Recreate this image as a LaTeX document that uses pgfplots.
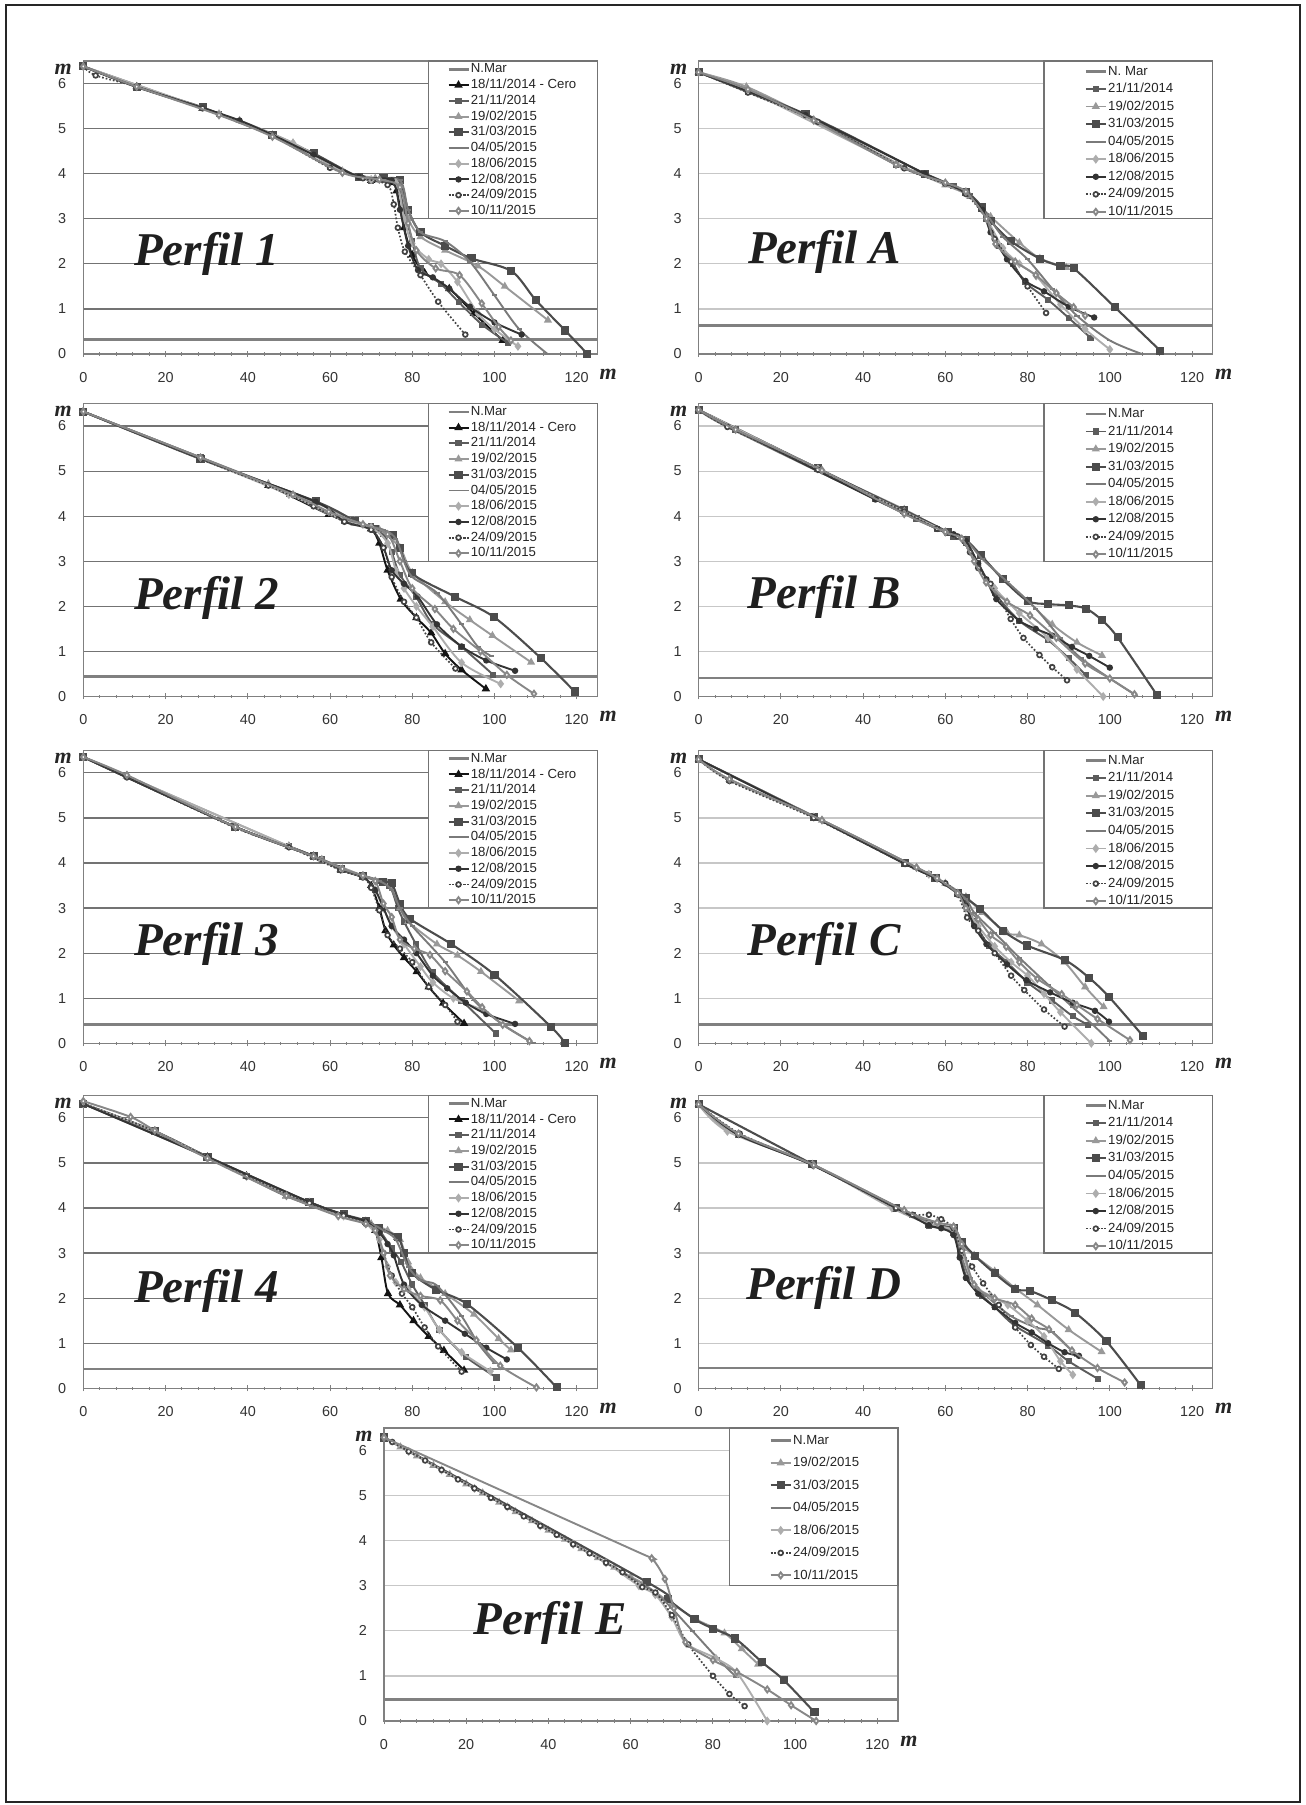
\documentclass[border=0pt]{standalone}
\usepackage{fontspec}
\setmainfont{Liberation Sans}
\newfontfamily\tnr{Liberation Serif}
\usepackage{pgfplots}
\pgfplotsset{compat=1.18}
\pgfplotsset{
 base/.style={
   scale only axis, width=257pt, height=146.5pt, anchor=south west,
   xmin=0,xmax=125,ymin=0,ymax=6.5,
   xtick={0,20,...,120}, ytick={0,1,...,6},
   minor x tick num=4,
   tick align=center, xtick pos=bottom, ytick pos=left,
   major tick length=3pt, minor tick length=1.6pt,
   tick style={black!50, line width=0.5pt},
   ytick style={draw=none},
   axis line style={black!50, line width=0.6pt},
   ymajorgrids,
   tick label style={font=\fontsize{7.2}{8}\selectfont, text=black!80},
   /pgf/number format/assume math mode=true,
   xticklabel style={yshift=-4pt},
   yticklabel style={xshift=-3.5pt},
   clip mode=individual,
   legend cell align=left,
   legend image code/.code={\draw[mark repeat=2,mark phase=2] plot coordinates {(0pt,0pt)(5pt,0pt)(10pt,0pt)};},
   legend style={at={(0.672,1)}, anchor=north west, draw=none, fill=none, inner sep=0pt,
     column sep=0.5pt, font=\fontsize{6.6}{7}\selectfont, text=black!85,
     cells={anchor=west},
     nodes={inner sep=0pt, text height=4.8pt, text depth=1.2pt}},
 },
 leftpanel/.style={base, y grid style={draw=black!55, line width=0.6pt},
   legend style={xshift=9pt, yshift=-1pt, row sep=1.86pt}},
 rightpanel/.style={base, y grid style={draw=black!22, line width=0.6pt},
   legend style={xshift=20pt, yshift=-2pt, row sep=2.78pt}},
 epanel/.style={base, y grid style={draw=black!22, line width=0.6pt},
   legend style={xshift=19.75pt, yshift=-3pt, row sep=5.25pt}},
 nmar/.style={color=black!50, line width=1.4pt, mark=none},
 s1811/.style={color=black!92, line width=0.95pt, mark=triangle*, mark size=1.5pt, smooth, tension=0.5},
 s2111/.style={color=black!64, line width=0.95pt, mark=square*, mark size=1.1pt, smooth, tension=0.5},
 s1902/.style={color=black!40, line width=0.95pt, mark=triangle*, mark size=1.4pt, smooth, tension=0.5},
 s3103/.style={color=black!70, line width=1.05pt, mark=square*, mark size=1.5pt, smooth, tension=0.5},
 s0405/.style={color=black!52, line width=0.95pt, mark=-, mark size=1.3pt, smooth, tension=0.5},
 s1806/.style={color=black!32, line width=0.95pt, mark=diamond*, mark size=1.5pt, smooth, tension=0.5},
 s1208/.style={color=black!80, line width=0.95pt, mark=*, mark size=1.1pt, smooth, tension=0.5},
 s2409/.style={color=black!74, line width=0.85pt, densely dotted, mark=*, mark size=1.2pt, mark options={solid, fill=white}, smooth, tension=0.5},
 s1011/.style={color=black!47, line width=0.95pt, mark=diamond*, mark size=1.5pt, mark options={solid, fill=white}, smooth, tension=0.5},
}
\tikzset{
 ptitle/.style={font=\tnr\bfseries\itshape\fontsize{23.5}{25}\selectfont, text=black!88, inner sep=0pt},
 mlab/.style={font=\tnr\bfseries\itshape\fontsize{11}{12}\selectfont, text=black!85, inner sep=0pt},
}
\newcommand\legbox{\draw[fill=white, draw=black!55, line width=0.6pt] (axis cs:84,3) rectangle (axis cs:125,6.5);}
\newcommand\mlabs{\node[mlab, xshift=-10pt, yshift=-4pt] at (rel axis cs:0,1) {m};
  \node[mlab, xshift=5.5pt, yshift=-10pt] at (rel axis cs:1,0) {m};}
\begin{document}
\begin{tikzpicture}
\useasboundingbox (0,0) rectangle (653pt,902.5pt);
\draw[black!85, line width=0.9pt] (3pt,1.5pt) rectangle (650pt,900pt);

% ---------------- Perfil 1
\begin{axis}[leftpanel, at={(41.65pt,725.5pt)}]
\addplot[nmar] coordinates {(0,0.33)(125,0.33)}; \addlegendentry{N.Mar}
\addplot[s1811] coordinates {(0,6.38)(13,5.93)(29,5.45)(46,4.85)(56,4.42)(63,4.05)(70,3.85)(75,3.8)(76.2,3.62)(78,2.8)(80,2.2)(83,1.8)(89,1.45)(95,0.9)(102,0.3)}; \addlegendentry{18/11/2014 - Cero}
\addplot[s2111] coordinates {(0,6.38)(13,5.92)(33,5.33)(46,4.85)(60,4.15)(70,3.85)(76,3.8)(78,3.2)(80,2.5)(82,1.9)(87,1.55)(91.3,1.15)(97,0.65)(103.2,0.25)}; \addlegendentry{21/11/2014}
\addplot[s1902] coordinates {(0,6.38)(29,5.45)(38,5.18)(51,4.68)(63,4.05)(71,3.9)(77,3.75)(79,3.0)(82,2.6)(88,2.3)(96,1.95)(102.5,1.5)(113,0.75)}; \addlegendentry{19/02/2015}
\addplot[s3103] coordinates {(0,6.38)(13,5.93)(29,5.47)(46,4.85)(56,4.45)(67,3.93)(73,3.9)(77,3.85)(79,3.2)(82,2.7)(88,2.4)(94.4,2.12)(104.1,1.84)(110,1.2)(117.2,0.52)(122.6,0)}; \addlegendentry{31/03/2015}
\addplot[s0405] coordinates {(0,6.38)(29,5.45)(46,4.85)(60,4.15)(70,3.88)(77,3.85)(79,3.2)(82,2.7)(88,2.5)(94,2.05)(100,1.3)(106,0.55)(112.9,0)}; \addlegendentry{04/05/2015}
\addplot[s1806] coordinates {(0,6.38)(33,5.33)(51,4.68)(63,4.05)(70,3.87)(76,3.8)(78,3.0)(80,2.45)(84,2.1)(87,2.0)(91,1.6)(96,0.9)(100,0.55)(105.7,0.17)}; \addlegendentry{18/06/2015}
\addplot[s1208] coordinates {(0,6.38)(13,5.93)(38,5.18)(56,4.42)(67,3.93)(75,3.85)(77,3.2)(79,2.4)(81.4,1.86)(85,1.7)(89,1.45)(94,1.05)(100,0.7)(106.6,0.43)}; \addlegendentry{12/08/2015}
\addplot[s2409] coordinates {(0,6.38)(3,6.18)(13,5.93)(29,5.45)(46,4.83)(60,4.13)(68,3.9)(74,3.75)(75.5,3.32)(76.5,2.8)(78.2,2.27)(82,1.75)(86.3,1.16)(92.9,0.43)}; \addlegendentry{24/09/2015}
\addplot[s1011] coordinates {(0,6.38)(13,5.93)(33,5.3)(46,4.82)(63,4.02)(72,3.87)(77,3.7)(79,2.9)(81,2.3)(85.7,1.9)(91.5,1.75)(96.9,1.12)(101,0.6)(104,0.3)}; \addlegendentry{10/11/2015}
\legbox
\node[ptitle] at (axis cs:30,2.22) {Perfil 1};
\mlabs
\end{axis}

% ---------------- Perfil A
\begin{axis}[rightpanel, at={(349.3pt,725.5pt)}]
\addplot[nmar] coordinates {(0,0.64)(125,0.64)}; \addlegendentry{N. Mar}
\addplot[s2111] coordinates {(0,6.25)(12,5.82)(26,5.3)(48,4.2)(55,4.0)(62,3.72)(66,3.5)(70,3.0)(73,2.4)(76.5,2.0)(79.4,1.59)(85,1.2)(90,0.8)(95.3,0.36)}; \addlegendentry{21/11/2014}
\addplot[s1902] coordinates {(0,6.25)(11.6,5.93)(28,5.2)(50,4.15)(60,3.75)(66,3.5)(71,3.05)(78,2.47)(83,2.12)(89.4,1.92)}; \addlegendentry{19/02/2015}
\addplot[s3103] coordinates {(0,6.25)(26,5.32)(55,4.0)(65,3.6)(69,3.25)(71,2.95)(76,2.5)(83.1,2.11)(88,1.95)(91.2,1.9)(101.2,1.04)(112.3,0.07)}; \addlegendentry{31/03/2015}
\addplot[s0405] coordinates {(0,6.25)(29,5.15)(50,4.12)(60,3.8)(66,3.5)(70,3.1)(74,2.6)(80,2.1)(86,1.45)(92,0.85)(100,0.3)(107.8,0)}; \addlegendentry{04/05/2015}
\addplot[s1806] coordinates {(0,6.25)(12,5.85)(48,4.22)(65,3.58)(70,3.0)(74,2.35)(78,2.0)(82.1,1.73)(88,1.1)(94,0.55)(100,0.1)}; \addlegendentry{18/06/2015}
\addplot[s1208] coordinates {(0,6.25)(26,5.3)(55,4.0)(65,3.58)(69,3.2)(71,2.7)(75,2.1)(79.5,1.62)(84,1.39)(90,1.05)(96.2,0.81)}; \addlegendentry{12/08/2015}
\addplot[s2409] coordinates {(0,6.25)(12,5.8)(29,5.15)(50,4.12)(60,3.78)(65,3.55)(70,3.0)(72,2.55)(76,2.05)(80,1.5)(84.5,0.91)}; \addlegendentry{24/09/2015}
\addplot[s1011] coordinates {(0,6.25)(12,5.87)(28,5.18)(48,4.2)(60,3.8)(65,3.6)(70,3.0)(72.2,2.44)(77,2.05)(82,1.75)(87,1.35)(91.2,1.04)(94,0.85)}; \addlegendentry{10/11/2015}
\legbox
\node[ptitle] at (axis cs:30.6,2.26) {Perfil A};
\mlabs
\end{axis}

% ---------------- Perfil 2
\begin{axis}[leftpanel, at={(41.65pt,554.25pt)}]
\addplot[nmar] coordinates {(0,0.45)(125,0.45)}; \addlegendentry{N.Mar}
\addplot[s1811] coordinates {(0,6.32)(28.5,5.28)(45,4.68)(59.7,4.04)(66,3.85)(70,3.72)(72,3.4)(74,2.8)(77.2,2.16)(81,1.75)(84.6,1.41)(88,0.95)(92,0.59)(97.9,0.17)}; \addlegendentry{18/11/2014 - Cero}
\addplot[s2111] coordinates {(0,6.32)(28.5,5.3)(50,4.5)(63.5,3.89)(70,3.78)(73,3.6)(75,3.2)(77,2.7)(81,2.2)(85,1.6)(92,1.1)(99.7,0.48)}; \addlegendentry{21/11/2014}
\addplot[s1902] coordinates {(0,6.32)(45,4.72)(56.5,4.3)(66,3.9)(72,3.7)(77,3.3)(80,2.75)(88,2.1)(94,1.7)(99.5,1.35)(108.9,0.76)}; \addlegendentry{19/02/2015}
\addplot[s3103] coordinates {(0,6.32)(28.5,5.27)(56.5,4.33)(66,3.9)(71,3.72)(75.4,3.59)(77,3.3)(79.9,2.73)(90.5,2.21)(99.9,1.76)(111.3,0.85)(119.5,0.11)}; \addlegendentry{31/03/2015}
\addplot[s0405] coordinates {(0,6.32)(45,4.7)(59.7,4.04)(66,3.85)(73,3.7)(76,3.5)(78,3.0)(80,2.65)(86,2.3)(92,1.6)(96,1.1)(99.3,0.89)}; \addlegendentry{04/05/2015}
\addplot[s1806] coordinates {(0,6.32)(50,4.48)(63.5,3.9)(70,3.75)(74,3.4)(76,2.8)(78,2.4)(81,2.0)(85,1.55)(92,0.75)(101.5,0.28)}; \addlegendentry{18/06/2015}
\addplot[s1208] coordinates {(0,6.32)(28.5,5.28)(56.5,4.32)(63.5,3.88)(70,3.7)(73,3.3)(75,2.8)(78,2.5)(81.3,2.22)(86,1.6)(92,1.11)(98,0.8)(105,0.57)}; \addlegendentry{12/08/2015}
\addplot[s2409] coordinates {(0,6.32)(28.5,5.27)(45,4.68)(56,4.22)(63.5,3.88)(70,3.7)(73,3.3)(75,2.65)(78,2.1)(81,1.75)(84.6,1.2)(90.5,0.62)}; \addlegendentry{24/09/2015}
\addplot[s1011] coordinates {(0,6.32)(28.5,5.3)(51,4.48)(59.7,4.1)(68,3.82)(74,3.6)(77,3.0)(80,2.4)(85.5,1.94)(90,1.5)(96.6,1.0)(103,0.48)(109.6,0.06)}; \addlegendentry{10/11/2015}
\legbox
\node[ptitle] at (axis cs:30,2.19) {Perfil 2};
\mlabs
\end{axis}

% ---------------- Perfil B
\begin{axis}[rightpanel, at={(349.3pt,554.25pt)}]
\addplot[nmar] coordinates {(0,0.41)(125,0.41)}; \addlegendentry{N.Mar}
\addplot[s2111] coordinates {(0,6.36)(9,5.92)(29,5.06)(43,4.38)(53,3.95)(58,3.72)(62,3.55)(65,3.4)(68,2.95)(72,2.3)(78,1.68)(85,1.25)(90,0.85)(94.2,0.47)}; \addlegendentry{21/11/2014}
\addplot[s1902] coordinates {(0,6.36)(29,5.05)(50,4.15)(60.7,3.62)(65,3.47)(69,3.1)(74,2.6)(80,2.12)(86,1.6)(92,1.2)(98.1,0.91)}; \addlegendentry{19/02/2015}
\addplot[s3103] coordinates {(0,6.36)(29,5.06)(50,4.13)(60.7,3.65)(65,3.47)(68.6,3.14)(74,2.6)(80,2.12)(85,2.05)(90,2.02)(94.2,1.95)(98,1.7)(101.9,1.31)(111.4,0.04)}; \addlegendentry{31/03/2015}
\addplot[s0405] coordinates {(0,6.36)(7,5.98)(43,4.38)(58,3.75)(65,3.45)(69,3.05)(75,2.55)(82,1.95)(88,1.3)(93,0.85)(100,0.4)(106.8,0)}; \addlegendentry{04/05/2015}
\addplot[s1806] coordinates {(0,6.36)(29,5.05)(50,4.1)(60,3.65)(65,3.42)(68,2.9)(72,2.4)(78,1.85)(85,1.3)(92,0.6)(98.4,0)}; \addlegendentry{18/06/2015}
\addplot[s1208] coordinates {(0,6.36)(9,5.92)(43,4.37)(58,3.72)(62,3.6)(65,3.45)(68,2.95)(70,2.6)(72.4,2.16)(78,1.68)(82,1.5)(86,1.35)(90.8,1.1)(95,0.9)(100,0.64)}; \addlegendentry{12/08/2015}
\addplot[s2409] coordinates {(0,6.36)(7,5.98)(29,5.03)(50,4.1)(58,3.72)(63,3.55)(66,3.2)(68,2.85)(71,2.5)(75.9,1.72)(79,1.3)(82.9,0.92)(86,0.65)(89.6,0.36)}; \addlegendentry{24/09/2015}
\addplot[s1011] coordinates {(0,6.36)(9,5.92)(30,5.02)(50,4.05)(60,3.65)(64,3.5)(67,3.0)(69.9,2.53)(75,2.1)(80.6,1.8)(87,1.3)(94,0.73)(100,0.4)(106,0.05)}; \addlegendentry{10/11/2015}
\legbox
\node[ptitle] at (axis cs:30.5,2.2) {Perfil B};
\mlabs
\end{axis}

% ---------------- Perfil 3
\begin{axis}[leftpanel, at={(41.65pt,380.85pt)}]
\addplot[nmar] coordinates {(0,0.42)(125,0.42)}; \addlegendentry{N.Mar}
\addplot[s1811] coordinates {(0,6.35)(10.6,5.93)(37,4.8)(50,4.37)(56,4.15)(62.6,3.85)(68,3.68)(70,3.5)(72,3.0)(73.5,2.5)(75.5,2.18)(78,1.9)(81.1,1.59)(84,1.25)(87.5,0.89)(92.6,0.44)}; \addlegendentry{18/11/2014 - Cero}
\addplot[s2111] coordinates {(0,6.35)(37,4.8)(50,4.37)(58,4.08)(62.6,3.85)(68,3.7)(72,3.6)(74.5,3.5)(76.5,3.0)(78,2.7)(80.9,2.2)(85,1.57)(92,0.95)(100.3,0.22)}; \addlegendentry{21/11/2014}
\addplot[s1902] coordinates {(0,6.35)(10.6,5.93)(50,4.37)(58,4.08)(68,3.72)(74,3.55)(77,3.0)(79,2.7)(86,2.2)(91,1.95)(96.7,1.59)(106,0.94)}; \addlegendentry{19/02/2015}
\addplot[s3103] coordinates {(0,6.35)(37,4.8)(56,4.15)(62.6,3.86)(68,3.72)(72.8,3.58)(75,3.55)(77,3.1)(79.5,2.76)(89.5,2.2)(100,1.52)(113.8,0.36)(117.2,0)}; \addlegendentry{31/03/2015}
\addplot[s0405] coordinates {(0,6.35)(37,4.8)(58,4.08)(66,3.75)(72,3.6)(75,3.4)(77,3.0)(80,2.6)(88,1.8)(95,0.95)(102,0.42)(109.5,0)}; \addlegendentry{04/05/2015}
\addplot[s1806] coordinates {(0,6.35)(10.6,5.93)(50,4.37)(62.6,3.86)(68,3.7)(71,3.4)(73,3.0)(75,2.6)(78,2.2)(82,1.7)(85,1.35)(90,1.0)(97,0.75)}; \addlegendentry{18/06/2015}
\addplot[s1208] coordinates {(0,6.35)(37,4.8)(56,4.15)(63,3.85)(68,3.7)(71,3.4)(73,3.0)(75,2.6)(78,2.3)(81,2.0)(85,1.5)(88.5,1.22)(93,0.9)(98,0.65)(105,0.43)}; \addlegendentry{12/08/2015}
\addplot[s2409] coordinates {(0,6.35)(10.6,5.9)(37,4.78)(50,4.35)(62.6,3.84)(68,3.68)(70,3.45)(72,2.95)(74,2.4)(77,2.1)(80,1.8)(84,1.25)(88,0.85)(91,0.48)}; \addlegendentry{24/09/2015}
\addplot[s1011] coordinates {(0,6.35)(10.6,5.95)(37,4.8)(56,4.15)(63,3.87)(68,3.72)(71,3.6)(73,3.1)(75,2.8)(77,2.3)(80.5,2.1)(84.3,1.96)(88,1.6)(93.3,1.15)(97,0.8)(102,0.41)(108.5,0.05)}; \addlegendentry{10/11/2015}
\legbox
\node[ptitle] at (axis cs:30,2.2) {Perfil 3};
\mlabs
\end{axis}

% ---------------- Perfil C
\begin{axis}[rightpanel, at={(349.3pt,380.85pt)}]
\addplot[nmar] coordinates {(0,0.42)(125,0.42)}; \addlegendentry{N.Mar}
\addplot[s2111] coordinates {(0,6.3)(7.5,5.84)(28,5.02)(50.2,3.99)(56,3.75)(63,3.33)(65,3.15)(67,2.7)(70.6,2.17)(75,1.8)(80,1.35)(86,0.95)(91,0.6)(94.7,0.41)}; \addlegendentry{21/11/2014}
\addplot[s1902] coordinates {(0,6.3)(7.5,5.85)(30,4.95)(53,3.9)(60,3.55)(65,3.25)(69,2.9)(75,2.45)(78,2.4)(83.4,2.2)(89,1.8)(94,1.25)(98.5,0.81)}; \addlegendentry{19/02/2015}
\addplot[s3103] coordinates {(0,6.3)(28,5.03)(50.2,3.99)(57.6,3.66)(63,3.33)(65,3.22)(68.5,2.98)(74,2.5)(79.9,2.17)(89.2,1.84)(95,1.45)(99.8,1.03)(108,0.17)}; \addlegendentry{31/03/2015}
\addplot[s0405] coordinates {(0,6.3)(30,4.95)(53,3.9)(60,3.55)(65,3.2)(67,2.9)(72,2.45)(78,1.9)(85,1.3)(91,0.8)(96,0.4)(100,0.05)}; \addlegendentry{04/05/2015}
\addplot[s1806] coordinates {(0,6.3)(7.5,5.84)(28,5.02)(56,3.75)(63,3.32)(65,3.0)(68,2.6)(72,2.15)(76,1.8)(80,1.5)(84,1.1)(88,0.69)(95.5,0)}; \addlegendentry{18/06/2015}
\addplot[s1208] coordinates {(0,6.3)(28,5.02)(50.2,3.98)(57.6,3.66)(63,3.33)(65,3.05)(67,2.6)(70,2.2)(75,1.75)(79.7,1.4)(85.5,1.13)(91,0.9)(96.4,0.72)(99.8,0.48)}; \addlegendentry{12/08/2015}
\addplot[s2409] coordinates {(0,6.3)(7.5,5.82)(28,5.0)(50.2,3.98)(60,3.55)(63,3.3)(65.3,2.79)(68,2.5)(72,2.0)(76,1.5)(79.2,1.18)(84,0.75)(89,0.37)}; \addlegendentry{24/09/2015}
\addplot[s1011] coordinates {(0,6.3)(7.5,5.86)(30,4.95)(53,3.9)(58,3.66)(63,3.33)(65,3.0)(68,2.75)(71,2.4)(74.8,2.14)(78,1.8)(82.4,1.43)(88.3,1.09)(92,0.85)(97,0.54)(104.9,0.07)}; \addlegendentry{10/11/2015}
\legbox
\node[ptitle] at (axis cs:30.5,2.2) {Perfil C};
\mlabs
\end{axis}

% ---------------- Perfil 4
\begin{axis}[leftpanel, at={(41.65pt,208.35pt)}]
\addplot[nmar] coordinates {(0,0.43)(125,0.43)}; \addlegendentry{N.Mar}
\addplot[s1811] coordinates {(0,6.31)(17.4,5.7)(30.2,5.13)(39.7,4.71)(49.4,4.27)(55,4.12)(63.3,3.84)(68.7,3.7)(71,3.5)(72.5,2.9)(74.1,2.1)(77,1.85)(80.3,1.5)(84,1.15)(87.7,0.84)(92.6,0.4)}; \addlegendentry{18/11/2014 - Cero}
\addplot[s2111] coordinates {(0,6.31)(17.4,5.7)(39.7,4.71)(55,4.13)(63.3,3.85)(68.7,3.7)(72,3.5)(75,3.1)(77.3,2.8)(80,2.3)(83,1.85)(86.6,1.3)(93,0.7)(100.5,0.24)}; \addlegendentry{21/11/2014}
\addplot[s1902] coordinates {(0,6.31)(30.2,5.13)(49.4,4.27)(63.3,3.85)(70,3.65)(74,3.5)(77,3.3)(79,2.8)(82,2.45)(88,2.1)(95,1.64)(101,1.1)(104,0.85)}; \addlegendentry{19/02/2015}
\addplot[s3103] coordinates {(0,6.31)(17.4,5.7)(30.2,5.14)(55,4.13)(63.3,3.86)(68.7,3.72)(72,3.55)(76.5,3.35)(78,3.0)(80,2.55)(85.7,2.19)(93.3,1.87)(105.7,0.9)(115.1,0.02)}; \addlegendentry{31/03/2015}
\addplot[s0405] coordinates {(0,6.31)(30.2,5.12)(49.4,4.26)(63.3,3.84)(70,3.65)(73,3.5)(76,3.3)(79,2.7)(82,2.4)(86,2.28)(92,1.6)(96,1.0)(100,0.55)}; \addlegendentry{04/05/2015}
\addplot[s1806] coordinates {(0,6.31)(17.4,5.7)(39.7,4.7)(55,4.12)(63.3,3.82)(68.7,3.65)(72,3.3)(74,2.7)(76,2.35)(79,2.2)(83,1.8)(86.6,1.3)(92,0.8)(99,0.38)}; \addlegendentry{18/06/2015}
\addplot[s1208] coordinates {(0,6.31)(30.2,5.13)(55,4.13)(63.3,3.85)(68.7,3.7)(72,3.45)(74,3.2)(75.5,2.95)(78,2.3)(82.3,1.85)(88,1.5)(92.8,1.21)(98,0.9)(103,0.64)}; \addlegendentry{12/08/2015}
\addplot[s2409] coordinates {(0,6.31)(17.4,5.7)(39.7,4.7)(55,4.11)(63.3,3.83)(68.7,3.65)(71,3.5)(73,3.0)(75,2.5)(77.5,2.1)(80,1.8)(83,1.35)(86.3,0.93)(92,0.37)}; \addlegendentry{24/09/2015}
\addplot[s1011] coordinates {(0,6.37)(11.5,6.02)(17.4,5.72)(30.2,5.1)(49.4,4.27)(62,3.82)(68.7,3.65)(71,3.5)(73,3.0)(74.6,2.5)(78,2.2)(82,2.05)(86.8,1.95)(91,1.5)(95.6,1.07)(101.4,0.5)(110.2,0.02)}; \addlegendentry{10/11/2015}
\legbox
\node[ptitle] at (axis cs:30,2.15) {Perfil 4};
\mlabs
\end{axis}

% ---------------- Perfil D
\begin{axis}[rightpanel, at={(349.3pt,208.35pt)}]
\addplot[nmar] coordinates {(0,0.45)(125,0.45)}; \addlegendentry{N.Mar}
\addplot[s2111] coordinates {(0,6.3)(9.7,5.63)(27.7,4.96)(48,4.0)(52,3.85)(56,3.61)(62,3.45)(63.5,3.0)(65.3,2.44)(69,2.05)(72,1.8)(76.9,1.39)(85,0.95)(90,0.6)(97.1,0.21)}; \addlegendentry{21/11/2014}
\addplot[s1902] coordinates {(0,6.3)(7,5.75)(27.7,4.97)(50,3.95)(58,3.65)(62,3.5)(65,3.1)(67,2.95)(72,2.6)(77,2.22)(82.4,1.85)(90,1.3)(98,0.81)}; \addlegendentry{19/02/2015}
\addplot[s3103] coordinates {(0,6.3)(27.7,4.97)(48,4.0)(56,3.65)(62,3.55)(64,3.25)(67.3,2.93)(72,2.55)(77,2.2)(80.6,2.16)(86,1.95)(91.5,1.68)(99.2,1.04)(107.5,0.07)}; \addlegendentry{31/03/2015}
\addplot[s0405] coordinates {(0,6.3)(9.7,5.63)(27.7,4.95)(52,3.85)(58,3.58)(62,3.45)(64,2.9)(66,2.45)(70,2.05)(76,1.6)(82,1.35)(86,1.25)(92,0.72)}; \addlegendentry{04/05/2015}
\addplot[s1806] coordinates {(0,6.3)(7,5.7)(27.7,4.96)(47,4.0)(56,3.65)(62,3.5)(64,3.05)(67,2.3)(71,2.05)(75.2,1.85)(80,1.5)(84,1.15)(88,0.6)(91,0.3)}; \addlegendentry{18/06/2015}
\addplot[s1208] coordinates {(0,6.3)(9.7,5.62)(27.7,4.95)(48,4.0)(56,3.62)(59,3.55)(62,3.4)(63.5,2.9)(65,2.45)(68,2.1)(72,1.8)(77,1.45)(81,1.24)(85,1.0)(89,0.8)(92.5,0.72)}; \addlegendentry{12/08/2015}
\addplot[s2409] coordinates {(0,6.3)(10,5.65)(27.7,4.95)(48,4.0)(52,3.85)(56,3.85)(59,3.75)(62,3.55)(64,3.05)(66.5,2.7)(69.2,2.33)(73,1.85)(77,1.35)(80.8,0.96)(84,0.7)(87.6,0.43)}; \addlegendentry{24/09/2015}
\addplot[s1011] coordinates {(0,6.3)(9.7,5.65)(28,4.95)(50,3.95)(58,3.68)(62,3.59)(64,3.2)(67,2.3)(72,2.0)(77,1.85)(81,1.55)(85.2,1.31)(90.8,0.84)(97,0.45)(103.6,0.13)}; \addlegendentry{10/11/2015}
\legbox
\node[ptitle] at (axis cs:30.5,2.22) {Perfil D};
\mlabs
\end{axis}

% ---------------- Perfil E
\begin{axis}[epanel, at={(192pt,42pt)}]
\addplot[nmar] coordinates {(0,0.47)(125,0.47)}; \addlegendentry{N.Mar}
\addplot[s1902] coordinates {(0,6.29)(4,6.08)(8,5.88)(12,5.67)(16,5.47)(20,5.26)(24,5.06)(28,4.85)(32,4.64)(36,4.44)(40,4.23)(44,4.03)(48,3.82)(52,3.62)(56,3.41)(60,3.2)(63,3.05)(70,2.6)(76,2.25)(82.8,1.95)(87,1.6)(91,1.26)}; \addlegendentry{19/02/2015}
\addplot[s3103] coordinates {(0,6.29)(64,3.08)(69,2.7)(75.5,2.26)(80,2.05)(85.4,1.83)(92,1.3)(97.2,0.91)(104.7,0.19)}; \addlegendentry{31/03/2015}
\addplot[s0405] coordinates {(0,6.29)(10,5.78)(20,5.26)(30,4.75)(40,4.23)(50,3.72)(63,3.02)(66,2.85)(70,2.5)(75,2.0)(81,1.4)(85.6,0.98)}; \addlegendentry{04/05/2015}
\addplot[s1806] coordinates {(0,6.29)(6,5.98)(14,5.57)(22,5.16)(30,4.75)(38,4.33)(46,3.92)(54,3.51)(62,3.0)(66,2.8)(70,2.3)(73.5,1.72)(80.7,1.39)(86,1.05)(93.2,0)}; \addlegendentry{18/06/2015}
\addplot[s2409] coordinates {(0,6.29)(2,6.19)(6,5.98)(10,5.78)(14,5.57)(18,5.36)(22,5.16)(26,4.95)(30,4.75)(34,4.54)(38,4.33)(42,4.13)(46,3.92)(50,3.72)(54,3.51)(58,3.3)(62.8,2.97)(66,2.85)(70,2.35)(74,1.7)(80,1.0)(84,0.6)(87.7,0.33)}; \addlegendentry{24/09/2015}
\addplot[s1011, mark indices={1,3,4,5,6,7,8,9,10,11,12}, legend image post style={mark indices={2}}] coordinates {(0,6.29)(61,3.78)(65.1,3.61)(68.3,3.15)(70.5,2.5)(73.3,1.75)(80,1.35)(85.8,1.09)(93.2,0.7)(99,0.35)(105.1,0)}; \addlegendentry{10/11/2015}
\legbox
\node[ptitle] at (axis cs:40.4,2.17) {Perfil E};
\mlabs
\end{axis}
\end{tikzpicture}
\end{document}
